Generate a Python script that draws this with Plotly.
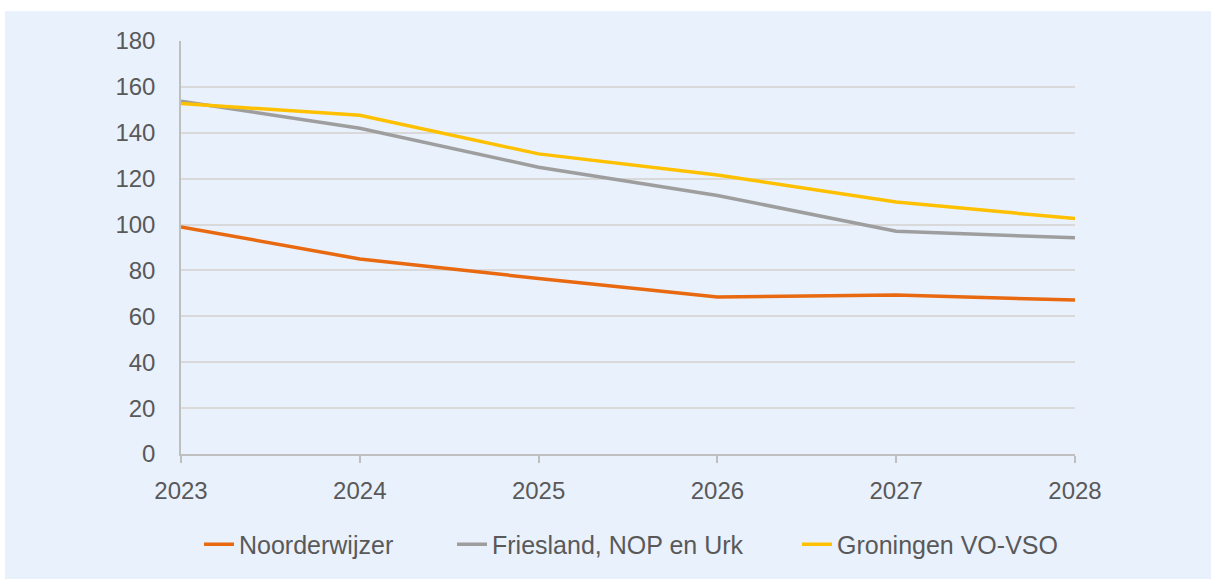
import plotly.graph_objects as go

years = [2023, 2024, 2025, 2026, 2027, 2028]
noorderwijzer = [99, 85, 76.5, 68.4, 69.3, 67.1]
friesland = [153.7, 142, 125, 112.7, 97.1, 94.2]
groningen = [152.8, 147.6, 130.8, 121.6, 109.8, 102.6]

names = ["Noorderwijzer", "Friesland, NOP en Urk", "Groningen VO-VSO"]
colors = ["#E8690F", "#9E9E9E", "#FFC000"]
legend_ids = ["legend", "legend2", "legend3"]
legend_px = [199, 452, 797]

W, H = 1211, 579
L, R, T, B = 181, 1075, 41, 456

fig = go.Figure()
for name, vals, c, lg in zip(names, [noorderwijzer, friesland, groningen], colors, legend_ids):
    fig.add_trace(go.Scatter(x=years, y=vals, mode="lines", name=name, legend=lg,
                             line=dict(color=c, width=3.5)))

def px_x(p):
    return (p - L) / (R - L)

def px_y(p):
    return (B - p) / (B - T)

fig.add_shape(type="rect", xref="paper", yref="paper", layer="below",
              x0=px_x(5), x1=px_x(1215), y0=px_y(11), y1=px_y(583),
              fillcolor="#E9F1FD", line=dict(width=0))

font = dict(family="Liberation Sans, Arial, sans-serif", size=24, color="#595959")
lfont = dict(family="Liberation Sans, Arial, sans-serif", size=25, color="#595959")

legends = {}
for lg, p in zip(legend_ids, legend_px):
    legends[lg] = dict(orientation="h", x=px_x(p), xanchor="left", y=px_y(547),
                       yanchor="middle", font=lfont, bgcolor="rgba(0,0,0,0)",
                       borderwidth=0)

fig.update_layout(
    width=W, height=H,
    margin=dict(l=L, r=W - R, t=T, b=H - B),
    paper_bgcolor="white", plot_bgcolor="rgba(0,0,0,0)",
    font=font,
    showlegend=True,
    xaxis=dict(range=[2023, 2028], tickvals=years, ticktext=[str(y) for y in years],
               showgrid=False, showline=True, linecolor="#BFBFBF", linewidth=1.5,
               ticks="outside", ticklen=7, tickcolor="#BFBFBF", tickwidth=1.5,
               ticklabelstandoff=7, zeroline=False, tickfont=font),
    yaxis=dict(range=[0, 180], tickvals=list(range(0, 181, 20)),
               showgrid=True, gridcolor="#D9D9D9", gridwidth=1.5,
               showline=True, linecolor="#BFBFBF", linewidth=1.5,
               ticks="", ticklabelstandoff=19, zeroline=False, tickfont=font),
    **legends,
)

fig.write_html("out.html", config={"displayModeBar": False})
with open("out.html", encoding="utf-8") as f:
    html = f.read()
html = html.replace("<head>", "<head><style>html,body{margin:0;padding:0;overflow:hidden}</style>", 1)
with open("out.html", "w", encoding="utf-8") as f:
    f.write(html)
